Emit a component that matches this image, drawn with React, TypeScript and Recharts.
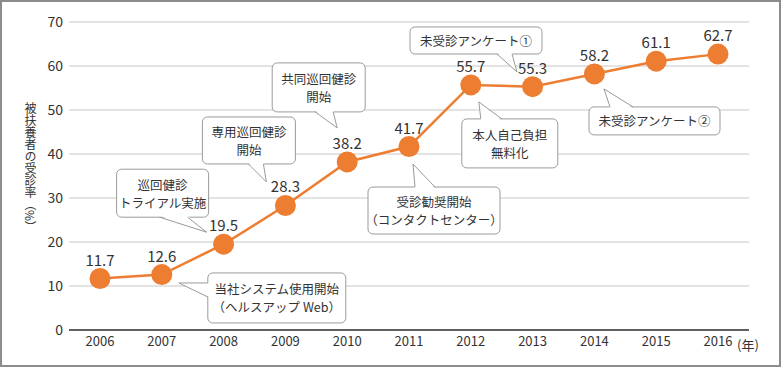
import React from "react"
import {
  LineChart,
  Line,
  XAxis,
  YAxis,
  CartesianGrid,
  LabelList,
  ReferenceDot,
} from "recharts"

const years = ["2006", "2007", "2008", "2009", "2010", "2011", "2012", "2013", "2014", "2015", "2016"]
const rates = [11.7, 12.6, 19.5, 28.3, 38.2, 41.7, 55.7, 55.3, 58.2, 61.1, 62.7]
const yTicks = [0, 10, 20, 30, 40, 50, 60, 70]
const yLabel = "被扶養者の受診率（%）"
const xUnit = "(年)"

const noteYears = ["2008", "2009", "2010", "2011", "2012", "2013", "2014", "2007"]
const noteTexts = [
  ["巡回健診", "トライアル実施"],
  ["専用巡回健診", "開始"],
  ["共同巡回健診", "開始"],
  ["受診勧奨開始", "（コンタクトセンター）"],
  ["本人自己負担", "無料化"],
  ["未受診アンケート①"],
  ["未受診アンケート②"],
  ["当社システム使用開始", "（ヘルスアップ Web）"],
]

// box (x, y, w, h), tail tip and the two tail base points, all relative to the data point
type Layout = { box: [number, number, number, number]; tip: [number, number]; base: [number, number][] }
const noteLayout: Layout[] = [
  { box: [-107, -75, 92, 48], tip: [-17, -12], base: [[-64, -27], [-36, -27]] },
  { box: [-83, -88.5, 93, 47], tip: [-19, -23.5], base: [[-37, -41.5], [-22, -41.5]] },
  { box: [-75, -99, 93, 49], tip: [-10, -34], base: [[-32, -50], [-14, -50]] },
  { box: [-41, 40.5, 132, 47], tip: [4, 17.5], base: [[6, 40.5], [26, 40.5]] },
  { box: [-9, 34, 96, 49], tip: [8, 17], base: [[10, 34], [31, 34]] },
  { box: [-122.6, -59.7, 132, 27], tip: [-15.6, -14.7], base: [[-35.6, -32.7], [-20.6, -32.7]] },
  { box: [-5.4, 33, 131, 28], tip: [9.6, 15], base: [[15.6, 33], [38.6, 33]] },
  { box: [46, -1.6, 138, 50], tip: [17, 8.4], base: [[46, 8.4], [46, 22.4]] },
]

const ORANGE = "#ED7D31"
const TEXT = "#333333"
const GRID = "#c8c8c8"
const BOX = "#9a9a9a"
const FONT = "'Noto Sans CJK JP', 'Noto Sans', sans-serif"

const data = years.map((year, i) => ({ year, rate: rates[i] }))

function Callout({ cx, cy, idx }: { cx?: number; cy?: number; idx: number }) {
  if (cx == null || cy == null) return null
  const { box, tip, base } = noteLayout[idx]
  const lines = noteTexts[idx]
  const [bx, by, bw, bh] = box
  const x = cx + bx
  const y = cy + by
  const t = [cx + tip[0], cy + tip[1]]
  const b = base.map(([px, py]) => [cx + px, cy + py])
  // nudge the base points inside the box so the white tail hides its edge
  const inside = base.map(([px, py]) => {
    const dx = px === bx ? 1.5 : px === bx + bw ? -1.5 : 0
    const dy = py === by ? 1.5 : py === by + bh ? -1.5 : 0
    return [cx + px + dx, cy + py + dy]
  })
  const lh = 18
  const startY = y + bh / 2 - ((lines.length - 1) * lh) / 2
  return (
    <g>
      <rect x={x} y={y} width={bw} height={bh} rx={5} ry={5} fill="#fff" stroke={BOX} strokeWidth={1} />
      <polygon
        points={`${inside[0][0]},${inside[0][1]} ${t[0]},${t[1]} ${inside[1][0]},${inside[1][1]}`}
        fill="#fff"
        stroke="none"
      />
      <line x1={b[0][0]} y1={b[0][1]} x2={t[0]} y2={t[1]} stroke={BOX} strokeWidth={1} />
      <line x1={b[1][0]} y1={b[1][1]} x2={t[0]} y2={t[1]} stroke={BOX} strokeWidth={1} />
      {lines.map((s, i) => (
        <text
          key={i}
          x={x + bw / 2}
          y={startY + i * lh}
          textAnchor="middle"
          dominantBaseline="central"
          fontSize={12.5}
          fill={TEXT}
          fontFamily={FONT}
        >
          {s}
        </text>
      ))}
    </g>
  )
}

export default function App() {
  return (
    <div
      style={{
        position: "absolute",
        left: 0,
        top: 0,
        width: 781,
        height: 367,
        boxSizing: "border-box",
        border: "2px solid #8c8c8c",
        background: "#fff",
        fontFamily: FONT,
      }}
    >
      <div style={{ position: "absolute", left: -2, top: -2 }}>
        <LineChart width={781} height={367} data={data} margin={{ top: 22, right: 32, bottom: 0, left: 0 }}>
          <CartesianGrid vertical={false} stroke={GRID} strokeWidth={1} />
          <XAxis
            dataKey="year"
            height={37}
            padding={{ left: 31, right: 31 }}
            tickSize={0}
            tickMargin={7}
            axisLine={{ stroke: TEXT, strokeWidth: 1.5 }}
            tickLine={false}
            tick={{ fill: TEXT, fontSize: 13, fontFamily: FONT }}
            interval={0}
          />
          <YAxis
            width={69}
            domain={[0, 70]}
            ticks={yTicks}
            tickSize={0}
            tickMargin={6}
            axisLine={false}
            tickLine={false}
            tick={{ fill: TEXT, fontSize: 14, fontFamily: FONT }}
          />
          {noteYears.map((yr, i) => (
            <ReferenceDot
              key={i}
              x={yr}
              y={rates[years.indexOf(yr)]}
              r={0}
              shape={(p: any) => <Callout cx={p.cx} cy={p.cy} idx={i} />}
            />
          ))}
          <Line
            dataKey="rate"
            stroke={ORANGE}
            strokeWidth={2.5}
            dot={{ r: 10.5, fill: ORANGE, stroke: "none" }}
            activeDot={false}
            isAnimationActive={false}
          >
            <LabelList
              dataKey="rate"
              position="top"
              offset={13}
              fill={TEXT}
              fontSize={15}
              fontFamily={FONT}
              formatter={(v: any) => Number(v).toFixed(1)}
            />
          </Line>
        </LineChart>
      </div>
      <div
        style={{
          position: "absolute",
          left: 20,
          top: 100,
          writingMode: "vertical-rl",
          fontSize: 12,
          lineHeight: "16px",
          color: TEXT,
        }}
      >
        {yLabel}
      </div>
      <div style={{ position: "absolute", left: 735, top: 333, fontSize: 13, color: TEXT }}>{xUnit}</div>
    </div>
  )
}
